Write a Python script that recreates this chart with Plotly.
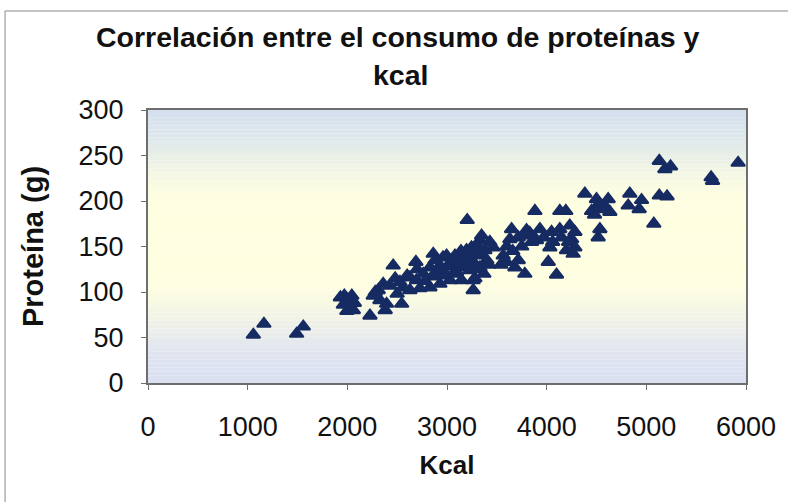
import plotly.graph_objects as go

# Daily energy intake (kcal) and protein intake (g) per subject
kcal = [
    1057, 1163, 1491, 1558,
    1930, 1970, 2000, 2045, 1960, 1995, 2060, 2070,
    2227, 2260, 2310, 2327, 2360, 2394, 2280, 2380,
    2427, 2460, 2528, 2545, 2500, 2480, 2560, 2600,
    2628, 2628, 2688, 2695, 2728, 2762, 2700, 2780,
    2829, 2829, 2862, 2929, 2929, 2850, 2880, 2900, 2960, 2980, 2950,
    2996, 3029, 3096, 3146, 3163, 3180, 3196, 3050, 3080, 3120, 3000, 3060, 3140, 3110,
    3203, 3230, 3263, 3263, 3263, 3263, 3280, 3297, 3246, 3220, 3290,
    3330, 3330, 3347, 3380, 3464, 3400, 3350, 3420, 3370, 3430, 3310,
    3564, 3598, 3631, 3648, 3681, 3715, 3715, 3540, 3600, 3660,
    3781, 3781, 3798, 3848, 3882, 3898, 3750, 3830,
    3932, 4016, 4032, 4049, 4099, 3970, 4060,
    4132, 4192, 4132, 4199, 4232, 4266, 4283, 4283, 4250, 4150, 4220,
    4383, 4450, 4500, 4517, 4517, 4534, 4550, 4617, 4634, 4580, 4480,
    4818, 4834, 4928, 4952,
    5075, 5130, 5186, 5243, 5130, 5208, 5664, 5650, 5921,
]
proteina = [
    53, 65, 54, 62,
    94, 96, 92, 96, 86, 79, 80, 88,
    74, 96, 102, 91, 109, 87, 100, 80,
    107, 129, 111, 87, 98, 115, 105, 118,
    116, 102, 133, 113, 104, 120, 125, 112,
    127, 105, 142, 129, 109, 117, 135, 120, 138, 118, 125,
    140, 113, 122, 113, 137, 127, 146, 132, 140, 130, 128, 120, 145, 135,
    179, 124, 133, 142, 102, 113, 115, 142, 149, 135, 125,
    157, 127, 162, 146, 149, 135, 140, 130, 120, 155, 150,
    140, 133, 158, 169, 127, 160, 135, 130, 150, 145,
    162, 120, 168, 155, 189, 157, 150, 165,
    169, 133, 149, 166, 119, 160, 155,
    189, 189, 169, 146, 173, 142, 166, 149, 158, 160, 155,
    208, 189, 202, 196, 160, 169, 191, 202, 188, 195, 185,
    195, 208, 191, 201,
    175, 244, 235, 238, 206, 205, 222, 226, 242,
]

x_ticks = [0, 1000, 2000, 3000, 4000, 5000, 6000]
y_ticks = [0, 50, 100, 150, 200, 250, 300]

title_lines = ["Correlación entre el consumo de proteínas y", "kcal"]

FONT = "Liberation Sans, Arial, sans-serif"
INK = "#111111"
MARK = "#172b63"

fig = go.Figure()
fig.add_trace(go.Scatter(
    x=kcal, y=proteina, mode="markers",
    marker=dict(symbol="triangle-up", size=12, color=MARK,
                line=dict(color=MARK, width=2)),
    showlegend=False, hoverinfo="x+y",
))

# Plot-area fill: light blue at top and bottom, pale yellow through the middle
top_c = (212, 224, 238)
bot_c = (220, 225, 242)
centre = (254, 254, 224)
n = 70
shapes = []
for i in range(n):
    t = (i + 0.5) / n          # 0 at the top, 1 at the bottom
    d = abs(t - 0.48) * 2
    w = min(max((d - 0.25) / 0.75, 0.0), 1.0)
    w = w * w * (3 - 2 * w)
    edge = top_c if t < 0.48 else bot_c
    c = tuple(round(centre[k] + (edge[k] - centre[k]) * w) for k in range(3))
    shapes.append(dict(
        type="rect", xref="paper", yref="paper",
        x0=0, x1=1, y0=1 - (i + 1) / n, y1=1 - i / n,
        fillcolor="rgb(%d,%d,%d)" % c, line=dict(width=0), layer="below",
    ))

# Outer chart frame
shapes.append(dict(
    type="rect", xref="paper", yref="paper",
    x0=-0.239, x1=1.09, y0=-0.51, y1=1.3626,
    line=dict(color="#8a8a8a", width=1), fillcolor="rgba(0,0,0,0)", layer="below",
))

# Two-line chart title, centred on the chart area
annotations = [
    dict(text="<b>%s</b>" % title_lines[0], xref="paper", yref="paper",
         x=(398 - 148) / 598, y=(383 - 37) / 273, xanchor="center", yanchor="middle",
         showarrow=False, font=dict(family=FONT, size=28.5, color=INK)),
    dict(text="<b>%s</b>" % title_lines[1], xref="paper", yref="paper",
         x=(400 - 148) / 598, y=(383 - 75) / 273, xanchor="center", yanchor="middle",
         showarrow=False, font=dict(family=FONT, size=28.5, color=INK)),
]

axis_common = dict(
    showgrid=False, zeroline=False,
    showline=True, linecolor="#6e6e6e", linewidth=2, mirror=True,
    ticks="outside", ticklen=5, tickcolor="#6e6e6e", tickwidth=1,
    tickfont=dict(family=FONT, size=27, color=INK),
)

fig.update_layout(
    width=788, height=502,
    margin=dict(l=148, r=42, t=110, b=119),
    paper_bgcolor="white",
    plot_bgcolor="rgba(0,0,0,0)",
    shapes=shapes,
    annotations=annotations,
    xaxis=dict(
        axis_common,
        range=[0, 6000], tickvals=x_ticks,
        ticktext=[str(v) for v in x_ticks],
        ticklabelstandoff=14,
        title=dict(text="<b>Kcal</b>", font=dict(family=FONT, size=26, color=INK),
                   standoff=14),
    ),
    yaxis=dict(
        axis_common,
        range=[0, 300], tickvals=y_ticks,
        ticktext=[str(v) for v in y_ticks],
        ticklabelstandoff=12,
        title=dict(text="<b>Proteína (g)</b>", font=dict(family=FONT, size=29, color=INK),
                   standoff=26),
    ),
)

fig.write_html("out.html")
